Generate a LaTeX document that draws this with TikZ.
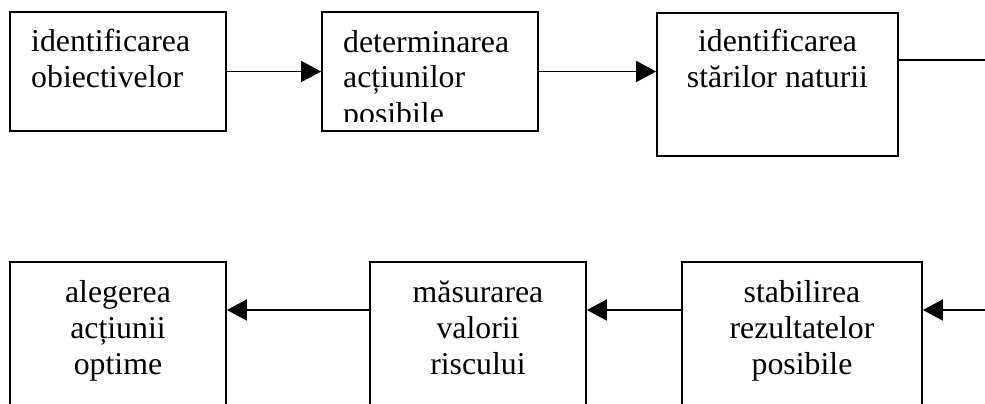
\documentclass[tikz,border=0pt]{standalone}
\usepackage{fontspec}
\setmainfont{Liberation Serif}
\usetikzlibrary{arrows.meta}
\tikzset{
  box/.style={draw, line width=1.8pt, inner sep=0pt, minimum width=216pt},
  lbl/.style={font=\fontsize{31.8}{36}\selectfont, inner sep=0pt, anchor=base},
  conn/.style={line width=1.8pt},
  arr/.style={conn, -{Triangle[length=20pt,width=21pt]}}
}
\begin{document}
\begin{tikzpicture}[x=1pt,y=-1pt]
\clip (0,0) rectangle (985,404);
\useasboundingbox (0,0) rectangle (985,404);
% top row boxes
\node[box, minimum height=119pt] (b1) at (118,71.5) {};
\node[box, minimum height=119pt] (b2) at (430,71.5) {};
\node[box, minimum width=241pt, minimum height=143pt] (b3) at (777.5,84.5) {};
% bottom row boxes
\node[box, minimum height=200pt] (b4) at (118,362) {};
\node[box, minimum height=200pt] (b5) at (478,362) {};
\node[box, minimum width=240pt, minimum height=200pt] (b6) at (802,362) {};
% texts (anchor base = baseline of last line)
\node[lbl, anchor=base west, align=left] (t1) at (31,88) {identificarea\\obiectivelor};
\begin{scope}
\clip (322,12) rectangle (538,121);
\node[lbl, anchor=base west, align=left] (t2) at (343,124) {determinarea\\acțiunilor\\posibile};
\end{scope}
\node[lbl, align=center] (t3) at (777.5,88) {identificarea\\stărilor naturii};
\node[lbl, align=center] (t4) at (118,374) {alegerea\\acțiunii\\optime};
\node[lbl, align=center] (t5) at (478,374) {măsurarea\\valorii\\riscului};
\node[lbl, align=center] (t6) at (802,374) {stabilirea\\rezultatelor\\posibile};
% connectors
\coordinate (r1) at (985,60);
\coordinate (r2) at (985,310);
\coordinate (m) at (0,310);
\draw[arr] (b1.east) -- (b2.west);
\draw[arr] (b2.east) -- (b2.east -| b3.west);
\draw[conn] (r1 -| b3.east) -- (r1);
\draw[arr] (r2) -- (r2 -| b6.east);
\draw[arr] (m -| b6.west) -- (m -| b5.east);
\draw[arr] (m -| b5.west) -- (m -| b4.east);
\end{tikzpicture}
\end{document}
